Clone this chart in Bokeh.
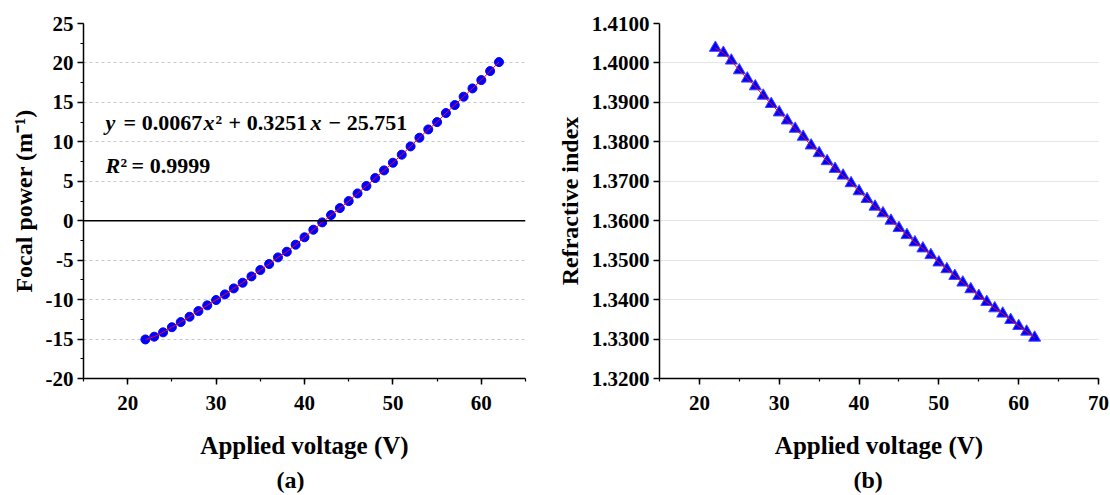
from bokeh.plotting import figure
from bokeh.layouts import row
from bokeh.models import (Range1d, SingleIntervalTicker, FixedTicker, Span, Label,
                          Title, PrintfTickFormatter, ColumnDataSource)
from bokeh.embed import file_html
from bokeh.resources import INLINE

# ---------------- data ----------------
voltage = [22, 23, 24, 25, 26, 27, 28, 29, 30, 31, 32, 33, 34, 35, 36, 37, 38, 39, 40, 41,
           42, 43, 44, 45, 46, 47, 48, 49, 50, 51, 52, 53, 54, 55, 56, 57, 58, 59, 60, 61, 62]
focal_power = [-15.05, -14.70, -14.15, -13.50, -12.85, -12.17, -11.45, -10.73, -10.05, -9.34,
               -8.58, -7.86, -7.06, -6.25, -5.49, -4.65, -3.93, -3.04, -2.10, -1.14,
               -0.21, 0.72, 1.60, 2.49, 3.46, 4.40, 5.41, 6.38, 7.35, 8.37,
               9.42, 10.52, 11.57, 12.50, 13.65, 14.66, 15.72, 16.77, 17.83, 18.97, 20.11]
refractive_index = [1.40382, 1.40255, 1.40059, 1.39813, 1.39602, 1.39406, 1.39169, 1.38958,
                    1.38745, 1.38541, 1.38330, 1.38127, 1.37906, 1.37712, 1.37509, 1.37313,
                    1.37143, 1.36950, 1.36746, 1.36550, 1.36355, 1.36187, 1.35999, 1.35813,
                    1.35635, 1.35450, 1.35297, 1.35127, 1.34941, 1.34770, 1.34600, 1.34432,
                    1.34262, 1.34092, 1.33939, 1.33779, 1.33644, 1.33482, 1.33329, 1.33187,
                    1.33034]
left_grid_ticks = [-15, -10, -5, 5, 10, 15, 20]
right_y_ticks = [1.32, 1.33, 1.34, 1.35, 1.36, 1.37, 1.38, 1.39, 1.40, 1.41]
right_grid_ticks = [1.33, 1.34, 1.35, 1.36, 1.37, 1.38, 1.39, 1.40]

FONT = "Liberation Serif"
TICK_SIZE = "21px"
YLABEL_SIZE = "24px"
XLABEL_SIZE = "25px"

src = ColumnDataSource(dict(v=voltage, p=focal_power, n=refractive_index))


def style(p):
    p.outline_line_color = None
    p.background_fill_color = "white"
    p.border_fill_color = "white"
    for ax in (p.xaxis[0], p.yaxis[0]):
        ax.axis_line_color = "black"
        ax.axis_line_width = 1.5
        ax.major_tick_line_color = "black"
        ax.major_tick_line_width = 1.5
        ax.minor_tick_line_color = "black"
        ax.minor_tick_line_width = 1.2
        ax.major_tick_in = 0
        ax.minor_tick_in = 0
        ax.major_tick_out = 6
        ax.minor_tick_out = 3
        ax.major_label_text_font = FONT
        ax.major_label_text_font_style = "bold"
        ax.major_label_text_font_size = TICK_SIZE
        ax.major_label_text_color = "black"
        ax.axis_label_text_font = FONT
        ax.axis_label_text_font_style = "bold"
        ax.axis_label_text_color = "black"
    p.xaxis[0].axis_label_text_font_size = XLABEL_SIZE
    p.yaxis[0].axis_label_text_font_size = YLABEL_SIZE
    p.xaxis[0].major_label_standoff = 11
    p.yaxis[0].major_label_standoff = 4
    p.xaxis[0].axis_label_standoff = 19
    p.yaxis[0].axis_label_standoff = 6
    p.xgrid.visible = False


# ---------------- left panel ----------------
p1 = figure(frame_width=442, frame_height=355, min_border_left=83, min_border_right=28,
            min_border_top=23, min_border_bottom=109,
            x_range=Range1d(15, 65), y_range=Range1d(-20, 25),
            output_backend="svg", toolbar_location=None)
style(p1)
p1.xaxis[0].ticker = SingleIntervalTicker(interval=10, num_minor_ticks=2)
p1.yaxis[0].ticker = SingleIntervalTicker(interval=5, num_minor_ticks=2)
p1.yaxis[0].formatter = PrintfTickFormatter(format="%d")
p1.xaxis[0].axis_label = "Applied voltage (V)"
p1.yaxis[0].axis_label = "Focal power (m\u207b\u00b9)"
p1.ygrid.ticker = FixedTicker(ticks=left_grid_ticks)
p1.ygrid.grid_line_color = "#c8c8c8"
p1.ygrid.grid_line_dash = "3 3"
p1.ygrid.grid_line_width = 1
p1.add_layout(Span(location=0, dimension="width", line_color="black", line_width=1.5))

p1.scatter("v", "p", source=src, marker="circle", size=9, fill_color="#0000ff",
           line_color="#0000ff")
p1.line("v", "p", source=src, line_color="red", line_width=1)

eq_y1, eq_y2, eq_x = 12.4, 6.95, 17.5
pieces = [("y", "bold italic", 0), ("= 0.0067", "bold", 18), ("x", "bold italic", 98),
          ("\u00b2", "bold", 110), ("+ 0.3251", "bold", 123), ("x", "bold italic", 205),
          ("\u2212 25.751", "bold", 223)]
for txt, st, off in pieces:
    p1.add_layout(Label(x=eq_x, y=eq_y1, x_offset=off, text=txt, text_font=FONT,
                        text_font_style=st, text_font_size="22px", text_baseline="middle",
                        text_color="black"))
for txt, st, off in [("R", "bold italic", 0), ("\u00b2", "bold", 15), ("= 0.9999", "bold", 26)]:
    p1.add_layout(Label(x=eq_x, y=eq_y2, x_offset=off, text=txt, text_font=FONT,
                        text_font_style=st, text_font_size="22px", text_baseline="middle",
                        text_color="black"))

p1.add_layout(Title(text="(a)", align="left", offset=193, text_font=FONT,
                    text_font_style="bold", text_font_size=YLABEL_SIZE,
                    text_color="black", standoff=7), "below")

# ---------------- right panel ----------------
p2 = figure(frame_width=439, frame_height=355, min_border_left=105, min_border_right=13,
            min_border_top=23, min_border_bottom=109,
            x_range=Range1d(15, 70), y_range=Range1d(1.32, 1.41),
            output_backend="svg", toolbar_location=None)
style(p2)
p2.xaxis[0].ticker = SingleIntervalTicker(interval=10, num_minor_ticks=2)
p2.yaxis[0].ticker = FixedTicker(ticks=right_y_ticks)
p2.yaxis[0].formatter = PrintfTickFormatter(format="%.4f")
p2.xaxis[0].axis_label = "Applied voltage (V)"
p2.yaxis[0].axis_label = "Refractive index"
p2.ygrid.ticker = FixedTicker(ticks=right_grid_ticks)
p2.ygrid.grid_line_color = "#c8c8c8"
p2.ygrid.grid_line_dash = "1 1"
p2.ygrid.grid_line_width = 1

p2.scatter("v", "n", source=src, marker="triangle", size=12, fill_color="#0000ff",
           line_color="#4444ff", line_width=1)
p2.line("v", "n", source=src, line_color="red", line_width=1)

p2.add_layout(Title(text="(b)", align="left", offset=194, text_font=FONT,
                    text_font_style="bold", text_font_size=YLABEL_SIZE,
                    text_color="black", standoff=7), "below")

layout = row(p1, p2)
open("out.html", "w").write(file_html(layout, INLINE))
